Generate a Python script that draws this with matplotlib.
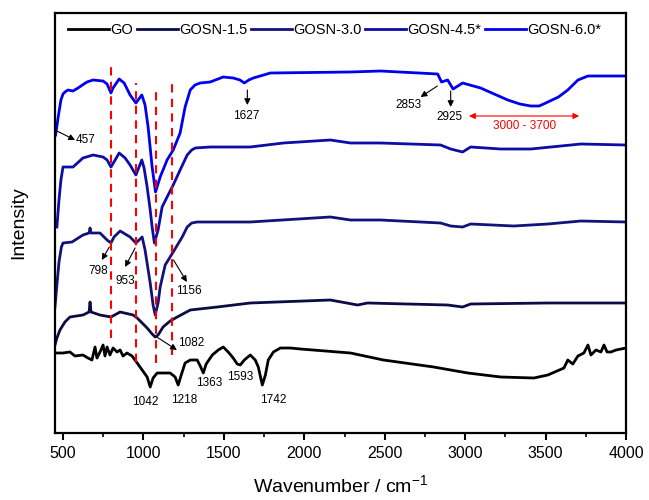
import matplotlib
matplotlib.use('Agg')
import matplotlib.pyplot as plt

plt.rcParams['font.family'] = ['Liberation Sans', 'DejaVu Sans']
plt.rcParams['mathtext.fontset'] = 'custom'
plt.rcParams['mathtext.rm'] = 'Liberation Sans'

# spectra (wavenumber, offset intensity in arbitrary units)
go_x = [450, 500, 543, 574, 624, 655, 680, 699, 711, 730, 749, 761, 774, 792, 811, 836, 855,
        873, 898, 929, 961, 992, 1023, 1042, 1060, 1085, 1135, 1166, 1197, 1216, 1235, 1259,
        1291, 1334, 1353, 1372, 1390, 1428, 1465, 1496, 1527, 1558, 1583, 1602, 1627, 1664,
        1695, 1714, 1739, 1758, 1776, 1808, 1851, 1913, 1976, 2287, 2492, 2804, 3016, 3221,
        3427, 3514, 3614, 3638, 3669, 3701, 3738, 3763, 3782, 3813, 3844, 3863, 3882, 3906,
        3938, 4000]
go_y = [80, 80, 81, 77, 78, 75, 73, 86, 75, 81, 88, 77, 86, 78, 85, 81, 83,
        77, 80, 77, 70, 63, 56, 46, 55, 60, 60, 60, 56, 48, 58, 70,
        73, 73, 67, 60, 69, 78, 83, 86, 81, 75, 69, 68, 73, 78,
        73, 66, 48, 58, 73, 81, 85, 85, 84, 80, 73, 66, 60, 56,
        55, 58, 65, 73, 69, 77, 80, 88, 78, 83, 81, 88, 81, 81,
        83, 85]

gosn15_x = [450, 462, 481, 512, 543, 624, 662, 668, 674, 730, 798, 855, 936, 961, 1023, 1054,
            1073, 1091, 1122, 1166, 1210, 1291, 1459, 1664, 2162, 2331, 2393, 2891, 2984,
            3034, 3514, 4000]
gosn15_y = [88, 95, 103, 111, 116, 118, 121, 131, 121, 118, 116, 121, 118, 115, 105, 99,
            96, 98, 106, 112, 116, 123, 126, 130, 133, 128, 130, 128, 126,
            129, 130, 130]

gosn30_x = [450, 462, 475, 490, 500, 556, 624, 662, 668, 674, 730, 774, 798, 817, 855, 917,
            953, 992, 1010, 1042, 1060, 1073, 1091, 1104, 1135, 1185, 1241, 1272, 1300, 1334,
            1664, 2162, 2287, 2474, 2847, 2910, 2984, 3034, 3302, 3514, 3719, 4000]
gosn30_y = [126, 148, 171, 186, 190, 191, 198, 200, 205, 200, 200, 193, 190, 196, 202, 196,
            190, 196, 183, 150, 128, 118, 130, 146, 168, 181, 196, 206, 210, 211,
            211, 216, 213, 213, 210, 207, 206, 209, 207, 209, 212, 211]

gosn45_x = [462, 475, 487, 500, 562, 624, 687, 749, 774, 798, 824, 849, 886, 917, 953, 990,
            1004, 1023, 1042, 1054, 1068, 1091, 1116, 1147, 1185, 1228, 1272, 1300, 1322, 1415,
            1664, 1870, 2162, 2287, 2474, 2847, 2910, 2984, 3034, 3221, 3408, 3595, 3719, 4000]
gosn45_y = [206, 233, 253, 266, 266, 275, 278, 276, 273, 266, 273, 280, 275, 268, 258, 273,
            265, 246, 223, 206, 190, 203, 226, 236, 248, 263, 278, 283, 285, 286,
            286, 290, 293, 290, 290, 288, 284, 281, 286, 284, 284, 287, 289, 288]

gosn60_x = [454, 469, 487, 500, 512, 531, 562, 593, 649, 687, 749, 774, 798, 811, 849, 880,
            917, 953, 990, 1010, 1029, 1054, 1075, 1104, 1147, 1185, 1228, 1259, 1291, 1320,
            1353, 1415, 1496, 1558, 1600, 1627, 1655, 1683, 1789, 2287, 2474, 2829, 2853,
            2891, 2925, 2984, 3096, 3180, 3265, 3340, 3408, 3460, 3514, 3580, 3638, 3701,
            3763, 4000]
gosn60_y = [298, 315, 333, 339, 341, 343, 342, 345, 351, 353, 352, 349, 340, 345, 354, 350,
            338, 330, 338, 328, 306, 266, 241, 256, 273, 283, 300, 326, 343, 348,
            350, 351, 356, 355, 353, 350, 353, 355, 360, 361, 362, 359, 351,
            353, 344, 350, 345, 339, 333, 329, 327, 327, 331, 336, 343, 353,
            357, 357]

names = ['GO', 'GOSN-1.5', 'GOSN-3.0', 'GOSN-4.5*', 'GOSN-6.0*']
colors = ['#000000', '#0b0b45', '#12127a', '#0c0ca8', '#0000ee']

# red dashed guide lines
dash_x = [798, 953, 1075, 1180]
dash_top = [370, 350, 347, 354]
dash_bottom = [95, 71, 70, 78]

fig = plt.figure(figsize=(6.49, 5.0), dpi=100)
ax = fig.add_axes([0.0847, 0.134, 0.8799, 0.84])

series = [(go_x, go_y), (gosn15_x, gosn15_y), (gosn30_x, gosn30_y),
          (gosn45_x, gosn45_y), (gosn60_x, gosn60_y)]
for (xs, ys), name, c in zip(series, names, colors):
    ax.plot(xs, ys, color=c, lw=2.0, label=name, solid_joinstyle='round')

ax.vlines(dash_x, dash_bottom, dash_top, colors='red', linestyles=(0, (4, 3)), lw=1.5)

# peak labels with arrows (arrow points from band to label)
arrows = [
    ('457', (462, 302), (575, 293), (581, 293), 'left'),
    ('1627', (1646, 343), (1646, 328), (1636, 317), 'center'),
    ('2853', (2827, 347), (2723, 336), (2648, 328), 'center'),
    ('2925', (2910, 342), (2910, 326), (2903, 316), 'center'),
    ('798', (788, 186), (741, 173), (721, 162), 'center'),
    ('953', (948, 185), (886, 166), (886, 152), 'center'),
    ('1156', (1187, 173), (1270, 151), (1280, 142), 'center'),
    ('1082', (1083, 96), (1208, 83), (1297, 90), 'center'),
]
for txt, tail, head, pos, ha in arrows:
    ax.annotate('', xy=head, xytext=tail,
                arrowprops=dict(arrowstyle='-|>', color='black', lw=0.8,
                                mutation_scale=9, shrinkA=0, shrinkB=0))
    ax.text(pos[0], pos[1], txt, fontsize=8.5, ha=ha, va='center')

go_labels = [('1042', 1010, 31), ('1218', 1255, 33), ('1363', 1411, 50),
             ('1593', 1602, 56), ('1742', 1806, 33)]
for txt, x, y in go_labels:
    ax.text(x, y, txt, fontsize=8.5, ha='center', va='center')

ax.annotate('', xy=(3709, 317), xytext=(3024, 317),
            arrowprops=dict(arrowstyle='<|-|>', color='red', lw=0.8,
                            mutation_scale=9, shrinkA=0, shrinkB=0))
ax.text(3372, 307, '3000 - 3700', color='red', fontsize=8.5, ha='center', va='center')

ax.set_xlim(450, 4000)
ax.set_ylim(0, 420)
ax.set_xticks(range(500, 4001, 500))
ax.set_xticks(range(750, 4000, 500), minor=True)
ax.set_yticks([])
ax.tick_params(axis='x', which='major', direction='out', length=5, width=1.5,
               labelsize=11.5, pad=4)
ax.tick_params(axis='x', which='minor', direction='out', length=3, width=1.2)
for s in ax.spines.values():
    s.set_linewidth(1.6)

ax.set_xlabel('Wavenumber / cm$^{-1}$', fontsize=14, labelpad=10)
ax.set_ylabel('Intensity', fontsize=14, labelpad=20)

ax.legend(ncol=5, loc='center', bbox_to_anchor=(0.49, 0.96), frameon=False,
          fontsize=10.5, handlelength=2.8, handletextpad=0.1, columnspacing=0.25,
          borderpad=0.2)

fig.savefig('out.png', dpi=100)
